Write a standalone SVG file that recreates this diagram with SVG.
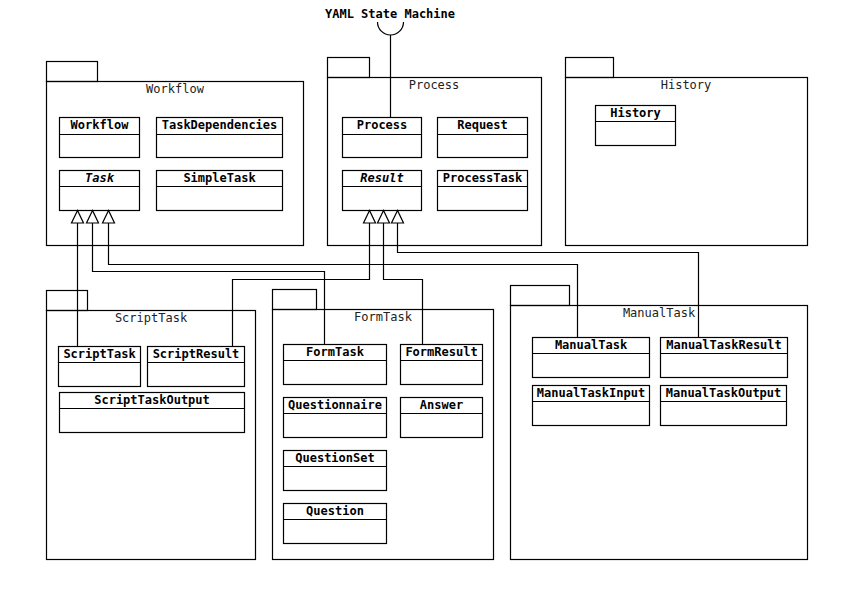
<svg xmlns="http://www.w3.org/2000/svg" width="857" height="600" viewBox="0 0 857 600">
<defs>
<style>
.pk{fill:none;stroke:#000;stroke-width:1.2}
.cl{fill:#fff;stroke:#000;stroke-width:1.2}
.pl{font-family:"DejaVu Sans Mono",monospace;font-size:12px;fill:#222;text-anchor:middle}
.cn{font-family:"DejaVu Sans Mono",monospace;font-size:12px;font-weight:bold;fill:#000;text-anchor:middle}
.it{font-style:italic}
.ln{fill:none;stroke:#000;stroke-width:1.2}
</style>
<marker id="gen" markerWidth="14" markerHeight="14" refX="6.5" refY="0.5" orient="auto" markerUnits="userSpaceOnUse" viewBox="-0.5 -0.5 14 14">
<path d="M6.5,0.5 L0.5,12.5 L12.5,12.5 Z" fill="#fff" stroke="#000" stroke-width="1.2" transform="rotate(0)"/>
</marker>
</defs>
<rect width="857" height="600" fill="#fff"/>

<g id="pkg-workflow">
<rect class="pk" x="46.5" y="61.5" width="51" height="20"/>
<rect class="pk" x="46.5" y="81.5" width="257" height="164"/>
<text class="pl" x="175" y="93">Workflow</text>
</g>
<g id="pkg-process">
<rect class="pk" x="327.5" y="57.5" width="42" height="20"/>
<rect class="pk" x="327.5" y="77.5" width="214" height="168"/>
<text class="pl" x="434" y="89">Process</text>
</g>
<g id="pkg-history">
<rect class="pk" x="565.5" y="57.5" width="48" height="20"/>
<rect class="pk" x="565.5" y="77.5" width="242" height="168"/>
<text class="pl" x="686" y="89">History</text>
</g>
<g id="pkg-scripttask">
<rect class="pk" x="46.5" y="290.5" width="41" height="20"/>
<rect class="pk" x="46.5" y="310.5" width="209" height="249"/>
<text class="pl" x="151" y="322">ScriptTask</text>
</g>
<g id="pkg-formtask">
<rect class="pk" x="272.5" y="289.5" width="44" height="20"/>
<rect class="pk" x="272.5" y="309.5" width="221" height="250"/>
<text class="pl" x="383" y="321">FormTask</text>
</g>
<g id="pkg-manualtask">
<rect class="pk" x="510.5" y="285.5" width="59" height="20"/>
<rect class="pk" x="510.5" y="305.5" width="297" height="254"/>
<text class="pl" x="659" y="317">ManualTask</text>
</g>

<g id="cls-workflow"><rect class="cl" x="59.5" y="117.5" width="80" height="40"/><line class="ln" x1="59.5" y1="134.5" x2="139.5" y2="134.5"/><text class="cn" x="99.5" y="129">Workflow</text></g>
<g id="cls-taskdependencies"><rect class="cl" x="156.5" y="117.5" width="126" height="40"/><line class="ln" x1="156.5" y1="134.5" x2="282.5" y2="134.5"/><text class="cn" x="219.5" y="129">TaskDependencies</text></g>
<g id="cls-task"><rect class="cl" x="59.5" y="170.5" width="80" height="40"/><line class="ln" x1="59.5" y1="186.5" x2="139.5" y2="186.5"/><text class="cn it" x="99.5" y="182">Task</text></g>
<g id="cls-simpletask"><rect class="cl" x="156.5" y="170.5" width="126" height="40"/><line class="ln" x1="156.5" y1="186.5" x2="282.5" y2="186.5"/><text class="cn" x="219.5" y="182">SimpleTask</text></g>

<g id="cls-process"><rect class="cl" x="342.5" y="117.5" width="79" height="40"/><line class="ln" x1="342.5" y1="134.5" x2="421.5" y2="134.5"/><text class="cn" x="382" y="129">Process</text></g>
<g id="cls-request"><rect class="cl" x="437.5" y="117.5" width="90" height="40"/><line class="ln" x1="437.5" y1="134.5" x2="527.5" y2="134.5"/><text class="cn" x="482.5" y="129">Request</text></g>
<g id="cls-result"><rect class="cl" x="342.5" y="170.5" width="79" height="40"/><line class="ln" x1="342.5" y1="186.5" x2="421.5" y2="186.5"/><text class="cn it" x="382" y="182">Result</text></g>
<g id="cls-processtask"><rect class="cl" x="437.5" y="170.5" width="90" height="40"/><line class="ln" x1="437.5" y1="186.5" x2="527.5" y2="186.5"/><text class="cn" x="482.5" y="182">ProcessTask</text></g>

<g id="cls-history"><rect class="cl" x="595.5" y="105.5" width="80" height="40"/><line class="ln" x1="595.5" y1="121.5" x2="675.5" y2="121.5"/><text class="cn" x="635.5" y="117">History</text></g>

<g id="cls-scripttask"><rect class="cl" x="58.5" y="346.5" width="82" height="40"/><line class="ln" x1="58.5" y1="362.5" x2="140.5" y2="362.5"/><text class="cn" x="99.5" y="358">ScriptTask</text></g>
<g id="cls-scriptresult"><rect class="cl" x="147.5" y="346.5" width="97" height="40"/><line class="ln" x1="147.5" y1="362.5" x2="244.5" y2="362.5"/><text class="cn" x="196" y="358">ScriptResult</text></g>
<g id="cls-scripttaskoutput"><rect class="cl" x="59.5" y="392.5" width="185" height="40"/><line class="ln" x1="59.5" y1="408.5" x2="244.5" y2="408.5"/><text class="cn" x="152" y="404">ScriptTaskOutput</text></g>

<g id="cls-formtask"><rect class="cl" x="283.5" y="344.5" width="103" height="40"/><line class="ln" x1="283.5" y1="360.5" x2="386.5" y2="360.5"/><text class="cn" x="335" y="356">FormTask</text></g>
<g id="cls-formresult"><rect class="cl" x="400.5" y="344.5" width="82" height="40"/><line class="ln" x1="400.5" y1="360.5" x2="482.5" y2="360.5"/><text class="cn" x="441.5" y="356">FormResult</text></g>
<g id="cls-questionnaire"><rect class="cl" x="283.5" y="397.5" width="103" height="40"/><line class="ln" x1="283.5" y1="413.5" x2="386.5" y2="413.5"/><text class="cn" x="335" y="409">Questionnaire</text></g>
<g id="cls-answer"><rect class="cl" x="400.5" y="397.5" width="82" height="40"/><line class="ln" x1="400.5" y1="413.5" x2="482.5" y2="413.5"/><text class="cn" x="441.5" y="409">Answer</text></g>
<g id="cls-questionset"><rect class="cl" x="283.5" y="450.5" width="103" height="40"/><line class="ln" x1="283.5" y1="466.5" x2="386.5" y2="466.5"/><text class="cn" x="335" y="462">QuestionSet</text></g>
<g id="cls-question"><rect class="cl" x="283.5" y="503.5" width="103" height="40"/><line class="ln" x1="283.5" y1="519.5" x2="386.5" y2="519.5"/><text class="cn" x="335" y="515">Question</text></g>

<g id="cls-manualtask"><rect class="cl" x="532.5" y="337.5" width="117" height="40"/><line class="ln" x1="532.5" y1="353.5" x2="649.5" y2="353.5"/><text class="cn" x="591" y="349">ManualTask</text></g>
<g id="cls-manualtaskresult"><rect class="cl" x="660.5" y="337.5" width="127" height="40"/><line class="ln" x1="660.5" y1="353.5" x2="787.5" y2="353.5"/><text class="cn" x="724" y="349">ManualTaskResult</text></g>
<g id="cls-manualtaskinput"><rect class="cl" x="532.5" y="385.5" width="117" height="40"/><line class="ln" x1="532.5" y1="401.5" x2="649.5" y2="401.5"/><text class="cn" x="591" y="397">ManualTaskInput</text></g>
<g id="cls-manualtaskoutput"><rect class="cl" x="660.5" y="385.5" width="126" height="40"/><line class="ln" x1="660.5" y1="401.5" x2="786.5" y2="401.5"/><text class="cn" x="723.5" y="397">ManualTaskOutput</text></g>

<g id="iface-yaml">
<text class="cn" x="390" y="18">YAML State Machine</text>
<path class="ln" d="M377.5,22 A13,13 0 0 0 403.5,22"/>
</g>

<g id="connectors">
<line class="ln" x1="390.5" y1="35" x2="390.5" y2="117.5"/>
<path class="ln" d="M77.5,346.5 V223"/>
<path class="ln" d="M324.5,344.5 V271.5 H92.5 V223"/>
<path class="ln" d="M577.5,337.5 V264.5 H108.5 V223"/>
<path class="ln" d="M232.5,346.5 V279.5 H369.5 V223"/>
<path class="ln" d="M422.5,344.5 V279.5 H383.5 V223"/>
<path class="ln" d="M698.5,337.5 V252.5 H397.5 V223"/>
<g fill="#fff" stroke="#000" stroke-width="1.2">
<path d="M77.5,210.5 L71.5,223 L83.5,223 Z"/>
<path d="M92.5,210.5 L86.5,223 L98.5,223 Z"/>
<path d="M108.5,210.5 L102.5,223 L114.5,223 Z"/>
<path d="M369.5,210.5 L363.5,223 L375.5,223 Z"/>
<path d="M383.5,210.5 L377.5,223 L389.5,223 Z"/>
<path d="M397.5,210.5 L391.5,223 L403.5,223 Z"/>
</g>
</g>
</svg>
